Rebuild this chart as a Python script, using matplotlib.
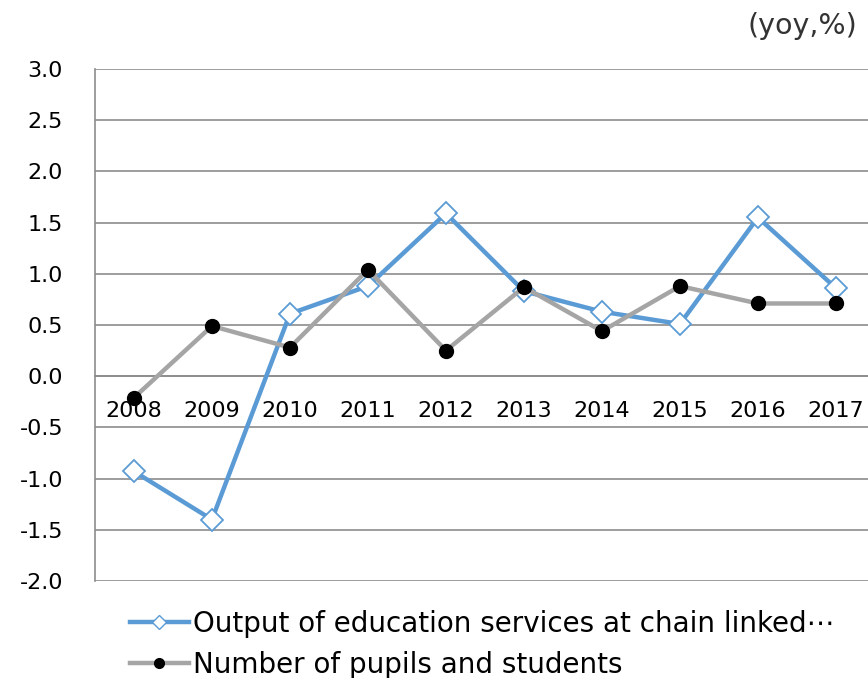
import matplotlib
matplotlib.use("Agg")
import matplotlib.pyplot as plt
from matplotlib.lines import Line2D

years = ["2008", "2009", "2010", "2011", "2012", "2013", "2014", "2015", "2016", "2017"]
output_education = [-0.93, -1.40, 0.61, 0.88, 1.59, 0.83, 0.63, 0.51, 1.55, 0.86]
pupils_students = [-0.21, 0.49, 0.28, 1.04, 0.25, 0.87, 0.44, 0.88, 0.71, 0.71]
y_ticks = [-2.0, -1.5, -1.0, -0.5, 0.0, 0.5, 1.0, 1.5, 2.0, 2.5, 3.0]

series_labels = ["Output of education services at chain linked\u22ef",
                 "Number of pupils and students"]

blue = "#5B9BD5"
gray = "#A5A5A5"
grid_col = "#8C8C8C"

plt.rcParams["font.family"] = ["DejaVu Sans"]

fig = plt.figure(figsize=(8.68, 6.78), dpi=100)
ax = fig.add_axes([0.1094, 0.1431, 0.8986, 0.7551])

x = list(range(len(years)))
ax.plot(x, output_education, color=blue, lw=3.2, marker="D", markersize=11,
        markerfacecolor="white", markeredgecolor=blue, markeredgewidth=1.3,
        solid_joinstyle="round", zorder=3)
ax.plot(x, pupils_students, color=gray, lw=3.2, marker="o", markersize=10,
        markerfacecolor="black", markeredgecolor="black",
        solid_joinstyle="round", zorder=4)

ax.set_xlim(-0.5, len(years) - 0.5)
ax.set_ylim(-2.0, 3.0)

# move the category axis to the zero line before styling the ticks
ax.spines["bottom"].set_position(("data", 0))
ax.spines["bottom"].set_color(grid_col)
ax.spines["bottom"].set_linewidth(1.2)
for side in ["top", "right"]:
    ax.spines[side].set_visible(False)
ax.spines["left"].set_color(grid_col)
ax.spines["left"].set_linewidth(1.2)

ax.set_yticks(y_ticks)
ax.set_yticklabels([f"{v:.1f}" for v in y_ticks])
ax.set_xticks(x)
ax.set_xticklabels(years)
ax.tick_params(axis="y", length=0, pad=23, labelsize=16)
ax.tick_params(axis="x", length=0, pad=18, labelsize=16)

ax.yaxis.grid(True, color=grid_col, lw=1.2)
ax.set_axisbelow(True)

fig.text(0.988, 0.961, "(yoy,%)", ha="right", va="center", fontsize=20.5,
         color="#333333")

handles = [
    Line2D([], [], color=blue, lw=3.2, marker="D", markersize=7,
           markerfacecolor="white", markeredgecolor=blue),
    Line2D([], [], color=gray, lw=3.2, marker="o", markersize=7,
           markerfacecolor="black", markeredgecolor="black"),
]
fig.legend(handles, series_labels, loc="upper left",
           bbox_to_anchor=(0.150, 0.100), frameon=False, fontsize=20,
           handlelength=2.1, handletextpad=0.15, labelspacing=0.45,
           borderaxespad=0, borderpad=0)

fig.savefig("out.png", dpi=100)
